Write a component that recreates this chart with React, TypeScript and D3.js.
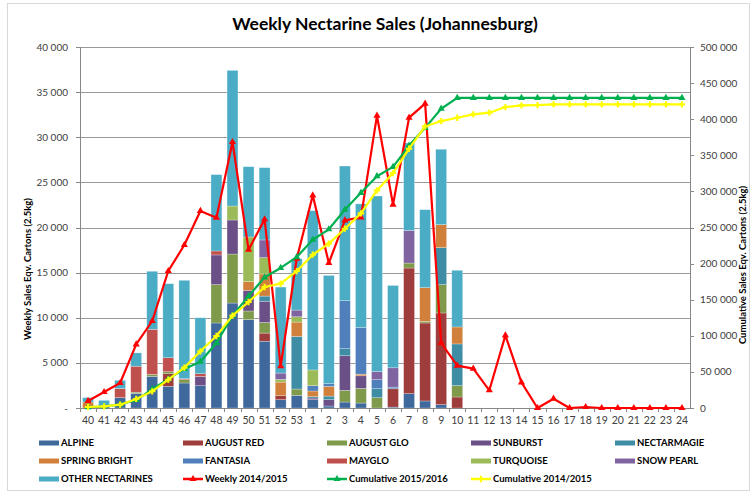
import React from 'react';
import * as d3 from 'd3';

const width = 755;
const height = 494;

// week labels on the x axis (season runs from week 40 to week 24)
const weeks = ['40', '41', '42', '43', '44', '45', '46', '47', '48', '49', '50', '51', '52', '53',
  '1', '2', '3', '4', '5', '6', '7', '8', '9', '10', '11', '12', '13', '14', '15', '16', '17', '18',
  '19', '20', '21', '22', '23', '24'];

// weeks that have bars this season (40 .. 10)
const barWeeks = weeks.slice(0, 24);

const varietyNames = ['ALPINE', 'AUGUST RED', 'AUGUST GLO', 'SUNBURST', 'NECTARMAGIE',
  'SPRING BRIGHT', 'FANTASIA', 'MAYGLO', 'TURQUOISE', 'SNOW PEARL', 'OTHER NECTARINES'];

const alpine = [0, 150, 1150, 1600, 3500, 2400, 2770, 2470, 9420, 11630, 9790, 7400, 920, 1400, 920, 220, 660, 550, 0, 100, 1590, 780, 370, 0];
const augustRed = [0, 0, 0, 0, 0, 1400, 0, 0, 0, 0, 0, 900, 440, 0, 0, 0, 0, 0, 0, 2030, 13920, 8640, 10160, 1220];
const augustGlo = [0, 0, 0, 150, 220, 220, 370, 0, 4250, 5430, 960, 1170, 0, 700, 0, 0, 1290, 1620, 1140, 0, 550, 185, 3140, 1260];
const sunburst = [0, 0, 0, 0, 0, 0, 0, 1030, 3290, 3770, 2290, 2360, 0, 0, 185, 700, 3840, 1400, 0, 0, 0, 0, 0, 0];
const nectarmagie = [0, 0, 0, 0, 0, 0, 0, 0, 0, 0, 0, 570, 0, 5830, 150, 400, 780, 0, 1000, 0, 0, 0, 4100, 4620];
const springBright = [650, 0, 0, 0, 0, 0, 0, 0, 0, 0, 960, 2450, 1510, 1590, 630, 1070, 0, 180, 0, 0, 0, 3730, 2550, 1880];
const fantasia = [0, 0, 0, 0, 0, 0, 0, 0, 0, 0, 0, 0, 0, 0, 590, 300, 5320, 5170, 1000, 185, 0, 0, 0, 0];
const mayglo = [0, 0, 1000, 2880, 5000, 1550, 110, 300, 440, 0, 0, 0, 0, 0, 0, 0, 0, 0, 0, 0, 0, 0, 0, 0];
const turquoise = [0, 0, 0, 0, 0, 0, 0, 0, 0, 1550, 4950, 1810, 300, 590, 1740, 0, 0, 0, 0, 0, 0, 0, 0, 0];
const snowPearl = [0, 0, 0, 0, 0, 0, 0, 0, 0, 0, 0, 1960, 700, 740, 0, 0, 0, 0, 890, 2140, 3620, 0, 0, 0];
const otherNectarines = [500, 700, 920, 1480, 6430, 8200, 10900, 6200, 8460, 15030, 7790, 8010, 9530, 5690, 17650, 12000, 14920, 13700, 19460, 9120, 9680, 8640, 8350, 6280];

const weekly2014 = [780, 1770, 2770, 7050, 9640, 15180, 18060, 21830, 21090, 29470, 17540, 20900, 4620, 16540,
  23560, 16060, 20790, 21120, 32390, 22530, 32170, 33720, 7200, 4690, 4360, 1960, 8050, 2840, 0, 1030, 0, 110,
  0, 0, 0, 0, 0, 0];
const cumulative2015 = [1150, 2000, 5060, 11010, 26000, 39900, 54100, 64100, 90000, 128000, 155000, 181000, 194000, 209000,
  233000, 247500, 274500, 298000, 321000, 334000, 363500, 388000, 414500, 429500, 429500, 429500, 429500, 429500,
  429500, 429500, 429500, 429500, 429500, 429500, 429500, 429500, 429500, 429500];
const cumulative2014 = [1400, 2300, 4600, 12500, 23100, 39200, 55900, 78500, 99700, 127900, 146800, 167600, 172200, 189700,
  212300, 227600, 248300, 269600, 301400, 325400, 359100, 390000, 397400, 402000, 406700, 409000, 416800, 419100,
  419600, 420500, 420500, 420500, 420500, 420500, 420500, 420500, 420500, 420500];

const leftTicks = [0, 5000, 10000, 15000, 20000, 25000, 30000, 35000, 40000];
const rightTicks = [0, 50000, 100000, 150000, 200000, 250000, 300000, 350000, 400000, 450000, 500000];

const varietyColors = ['#3f689d', '#9e3d3b', '#7e9a4a', '#6a5086', '#3e8da5', '#d0803a',
  '#4f80bc', '#c0504d', '#9bbb59', '#8064a2', '#4bacc6'];

const font = 'Lato, "Open Sans", sans-serif';

const margin = { left: 80, right: 65, top: 47, bottom: 86 };

const fmt = d3.formatLocale({ decimal: '.', thousands: '\u00a0', grouping: [3], currency: ['', ''] }).format(',d');

// triangle marker used by two of the lines
const triangle = d3.symbol().type(d3.symbolTriangle).size(22)();
const cross = d3.symbol().type(d3.symbolCross).size(22)();

const App = () => {
  const x = d3.scaleBand().domain(weeks).range([margin.left, width - margin.right])
    .paddingInner(0.32).paddingOuter(0.16);
  const yL = d3.scaleLinear().domain([0, 40000]).range([height - margin.bottom, margin.top]);
  const yR = d3.scaleLinear().domain([0, 500000]).range([height - margin.bottom, margin.top]);
  const cx = (w: string) => (x(w) as number) + x.bandwidth() / 2;

  const seriesValues = [alpine, augustRed, augustGlo, sunburst, nectarmagie, springBright,
    fantasia, mayglo, turquoise, snowPearl, otherNectarines];
  const table = barWeeks.map((w, i) => {
    const row: any = { week: w };
    varietyNames.forEach((n, j) => { row[n] = seriesValues[j][i]; });
    return row;
  });
  const stacked = d3.stack().keys(varietyNames)(table);

  const lineL = d3.line<number>().x((d, i) => cx(weeks[i])).y(d => yL(d));
  const lineR = d3.line<number>().x((d, i) => cx(weeks[i])).y(d => yR(d));

  const x0 = margin.left;
  const x1 = width - margin.right;
  const yBase = yL(0);

  const lines = [
    { name: 'Weekly 2014/2015', color: '#ff0000', d: lineL(weekly2014), pts: weekly2014.map((v, i) => [cx(weeks[i]), yL(v)]), marker: triangle },
    { name: 'Cumulative 2015/2016', color: '#00b050', d: lineR(cumulative2015), pts: cumulative2015.map((v, i) => [cx(weeks[i]), yR(v)]), marker: triangle },
    { name: 'Cumulative 2014/2015', color: '#ffff00', d: lineR(cumulative2014), pts: cumulative2014.map((v, i) => [cx(weeks[i]), yR(v)]), marker: cross },
  ];

  const legendItems = [
    ...varietyNames.map((n, i) => ({ name: n, color: varietyColors[i], kind: 'bar', marker: '' })),
    ...lines.map(l => ({ name: l.name, color: l.color, kind: 'line', marker: l.marker })),
  ];

  return (
    <svg width={width} height={height} style={{ position: 'absolute', left: 0, top: 0, background: '#fff' }}
      fontFamily={font}>
      <rect x={7.5} y={3.5} width={742} height={487} fill="#fff" stroke="#d9d9d9" />

      <text x={385} y={30} textAnchor="middle" fontSize={17.5} fontWeight="bold" fill="#000">
        Weekly Nectarine Sales (Johannesburg)
      </text>

      {/* gridlines */}
      {leftTicks.filter(t => t > 0).map(t => (
        <line key={t} x1={x0} x2={x1} y1={Math.round(yL(t)) + 0.5} y2={Math.round(yL(t)) + 0.5} stroke="#999" strokeWidth={1} />
      ))}

      {/* stacked bars */}
      {stacked.map((s, j) => (
        <g key={s.key} fill={varietyColors[j]}>
          {s.map((d, i) => (d[1] - d[0] > 0 ? (
            <rect key={i} x={x(barWeeks[i])} width={x.bandwidth()} y={yL(d[1])} height={yL(d[0]) - yL(d[1])}
              stroke="#ffffff" strokeOpacity={0.45} strokeWidth={0.6} />
          ) : null))}
        </g>
      ))}

      {/* axes */}
      <line x1={x0 + 0.5} x2={x0 + 0.5} y1={yL(40000)} y2={yBase} stroke="#888" />
      <line x1={x1 + 0.5} x2={x1 + 0.5} y1={yR(500000)} y2={yBase} stroke="#888" />
      <line x1={x0} x2={x1} y1={yBase + 0.5} y2={yBase + 0.5} stroke="#888" />
      {leftTicks.map(t => (
        <g key={t}>
          <line x1={x0 - 4} x2={x0} y1={Math.round(yL(t)) + 0.5} y2={Math.round(yL(t)) + 0.5} stroke="#888" />
          <text x={68} y={yL(t)} dy="0.35em" textAnchor="end" fontSize={10} fill="#404040">{t === 0 ? '-' : fmt(t)}</text>
        </g>
      ))}
      {rightTicks.map(t => (
        <g key={t}>
          <line x1={x1} x2={x1 + 4} y1={Math.round(yR(t)) + 0.5} y2={Math.round(yR(t)) + 0.5} stroke="#888" />
          <text x={700} y={yR(t)} dy="0.35em" textAnchor="start" fontSize={10} fill="#404040">{fmt(t)}</text>
        </g>
      ))}
      {weeks.map((w, i) => (
        <g key={w}>
          <line x1={Math.round(x0 + x.step() * i) + 0.5} x2={Math.round(x0 + x.step() * i) + 0.5} y1={yBase} y2={yBase + 4} stroke="#888" />
          <text x={cx(w)} y={yBase + 16} textAnchor="middle" fontSize={10.5} fill="#404040">{w}</text>
        </g>
      ))}

      <text transform={`translate(31,269) rotate(-90)`} textAnchor="middle" fontSize={9.5} fontWeight="bold" fill="#000">
        Weekly Sales Eqv. Cartons (2.5kg)
      </text>
      <text transform={`translate(746,265) rotate(-90)`} textAnchor="middle" fontSize={9.5} fontWeight="bold" fill="#000">
        Cumulative Sales Eqv. Cartons (2.5kg)
      </text>

      {/* lines */}
      {lines.map(l => (
        <g key={l.name}>
          <path d={l.d as string} fill="none" stroke={l.color} strokeWidth={2.2} strokeLinejoin="round" />
          {l.pts.map((p, i) => (
            <path key={i} d={l.marker as string} transform={`translate(${p[0]},${p[1]})`} fill={l.color} />
          ))}
        </g>
      ))}

      {/* legend */}
      {legendItems.map((item, i) => {
        const lx = 39 + (i % 5) * 144;
        const ly = 443 + Math.floor(i / 5) * 18;
        return (
          <g key={item.name} transform={`translate(${lx},${ly})`}>
            {item.kind === 'bar'
              ? <rect x={0} y={-2.5} width={20} height={5} fill={item.color} />
              : (
                <g>
                  <line x1={0} x2={20} y1={0} y2={0} stroke={item.color} strokeWidth={2.5} />
                  <path d={item.marker as string} transform="translate(10,0)" fill={item.color} />
                </g>
              )}
            <text x={22} y={0} dy="0.35em" fontSize={9.5} fontWeight="bold" fill="#000">{item.name}</text>
          </g>
        );
      })}
    </svg>
  );
};

export default App;
